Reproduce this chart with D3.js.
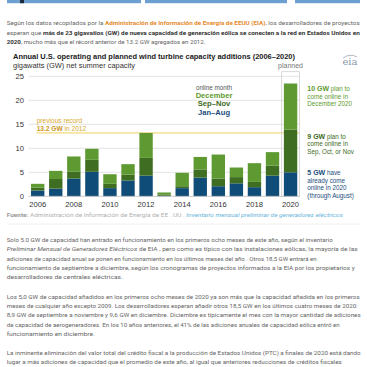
<!DOCTYPE html>
<html><head><meta charset="utf-8">
<script src="https://cdn.jsdelivr.net/npm/d3@7"></script>
<style>
html,body{margin:0;padding:0;background:#fff;}
svg{display:block;}
</style></head>
<body>
<svg id="c" width="367" height="367"></svg>
<script>
// ---- data ----
const years = [2006,2007,2008,2009,2010,2011,2012,2013,2014,2015,2016,2017,2018,2019,2020];
const janAug   = [1.2,1.6,3.7,5.1,1.7,3.3,4.3,0.1,1.7,3.9,2.1,2.7,1.9,4.3,5.0];
const sepNov   = [0.6,2.0,1.4,2.5,0.9,1.2,3.7,0.3,0.4,1.7,1.6,1.3,1.1,2.1,8.9];
const december = [0.8,1.7,3.2,2.3,2.0,2.2,5.2,0.4,2.8,2.6,5.0,2.0,3.9,2.8,9.6];
const seriesNames = ["Jan–Aug","Sep–Nov","December"];
const yTicks = [0,5,10,15,20,25];
const xTickLabels = [2006,2008,2010,2012,2014,2016,2018,2020];
const previousRecord = 13.2;

const colors = {"Jan–Aug":"#0f4c78","Sep–Nov":"#3f6e22","December":"#5e9a31"};
const legendColors = {"December":"#5e9a2e","Sep–Nov":"#3d6a22","Jan–Aug":"#1b4d7e"};

const svg = d3.select("#c");
const FONT = "Arial, 'Liberation Sans', sans-serif";
const PFONT = "Roboto, 'Open Sans', sans-serif";

// top banner
[[7,141],[145,287],[295,360]].forEach(([a,b])=>{
  svg.append("rect").attr("x",a).attr("y",0).attr("width",b-a).attr("height",3.2).attr("fill","#6d9fd1");
});
svg.append("rect").attr("x",20).attr("y",0).attr("width",4).attr("height",3.2).attr("fill","#1d2a3a");

// helper for rich text lines
function line(x,y,segs,size,w,fam){
  const t = svg.append("text").attr("x",x).attr("y",y).attr("font-family",fam||PFONT).attr("font-size",size);
  segs.forEach(s=>{
    const ts=t.append("tspan").text(s.t).attr("fill",s.c||"#666");
    if(s.b) ts.attr("font-weight","bold");
    if(s.i) ts.attr("font-style","italic");
  });
  if(w){ t.attr("textLength",w).attr("lengthAdjust","spacingAndGlyphs"); }
  return t;
}

// intro paragraph
const PS = 6.2;
line(6.7,24.8,[{t:"Según los datos recopilados por la "},{t:"Administración de Información de Energía de EEUU (EIA)",c:"#e5892c",b:1},{t:", los desarrolladores de proyectos"}],PS,353);
line(6.7,34.5,[{t:"esperan que "},{t:"más de 23 gigavatios (GW) de nueva capacidad de generación eólica se conecten a la red en Estados Unidos en",c:"#333",b:1}],PS,353);
line(6.7,44.3,[{t:"2020",c:"#333",b:1},{t:", mucho más que el récord anterior de 13.2 GW agregados en 2012."}],PS,null);

// chart scales
const x = d3.scaleBand().domain(years).range([28.67,299.6]).paddingInner(0.26).paddingOuter(0.13);
const y = d3.scaleLinear().domain([0,25]).range([196.3,76.3]);

// title
line(13,59.3,[{t:"Annual U.S. operating and planned wind turbine capacity additions (2006–2020)",c:"#1a1a1a",b:1}],7.6,282,FONT);
line(13,68.2,[{t:"gigawatts (GW) net summer capacity",c:"#333"}],7.3,122,FONT);

// eia logo
const lg = svg.append("g");
lg.append("text").attr("x",350).attr("y",65).attr("text-anchor","middle").attr("font-family","'DejaVu Serif', serif").attr("font-size",10).attr("fill","#8a97a6").text("eia");
lg.append("path").attr("d","M343,58 Q350,53 357,57").attr("fill","none").attr("stroke","#9aa6b3").attr("stroke-width",0.8);

// gridlines
svg.append("g").selectAll("line").data(yTicks.filter(d=>d>0)).join("line")
  .attr("x1",28.5).attr("x2",299.6).attr("y1",d=>y(d)).attr("y2",d=>y(d))
  .attr("stroke","#dcdcdc").attr("stroke-width",0.8);
// y labels
svg.append("g").selectAll("text").data(yTicks).join("text")
  .attr("x",24).attr("y",d=>y(d)+2.6).attr("text-anchor","end")
  .attr("font-family",FONT).attr("font-size",7.6).attr("fill","#333").text(d=>d);

// previous record line
svg.append("line").attr("x1",36.5).attr("x2",299).attr("y1",y(previousRecord)).attr("y2",y(previousRecord))
  .attr("stroke","#f0cf5a").attr("stroke-width",1);
line(36.7,122.8,[{t:"previous record",c:"#d7a82b"}],6.6,null,FONT);
line(36.7,130.6,[{t:"13.2 GW",c:"#c9961c",b:1},{t:" in 2012",c:"#d7a82b"}],6.6,null,FONT);

// planned box
const bx = x(2020)-2.2, bw = x.bandwidth()+4.4;
svg.append("rect").attr("x",bx).attr("y",y(25)-4.6).attr("width",bw).attr("height",y(0)-y(25)+4.6)
  .attr("fill","none").attr("stroke","#cfcfcf").attr("stroke-width",0.8);
svg.append("text").attr("x",bx+bw/2).attr("y",68.3).attr("text-anchor","middle")
  .attr("font-family",FONT).attr("font-size",7).attr("fill","#777").text("planned");

// stacked bars
const table = years.map((yr,i)=>({year:yr,"Jan–Aug":janAug[i],"Sep–Nov":sepNov[i],"December":december[i]}));
const stack = d3.stack().keys(seriesNames)(table);
svg.append("g").selectAll("g").data(stack).join("g").attr("fill",d=>colors[d.key])
  .selectAll("rect").data(d=>d).join("rect")
  .attr("x",d=>x(d.data.year)).attr("width",x.bandwidth())
  .attr("y",d=>y(d[1])).attr("height",d=>y(d[0])-y(d[1]));

// baseline
svg.append("line").attr("x1",28.5).attr("x2",299.6).attr("y1",y(0)).attr("y2",y(0)).attr("stroke","#bbb").attr("stroke-width",0.8);

// x labels
svg.append("g").selectAll("text").data(xTickLabels).join("text")
  .attr("x",d=>x(d)+x.bandwidth()/2).attr("y",206.6).attr("text-anchor","middle")
  .attr("font-family",FONT).attr("font-size",7.6).attr("fill","#333").text(d=>d);

// legend
const lgx = 214;
svg.append("text").attr("x",lgx).attr("y",89.5).attr("text-anchor","middle").attr("font-family",FONT).attr("font-size",6.3).attr("fill","#555").text("online month");
[["December",97.5],["Sep–Nov",106],["Jan–Aug",114.5]].forEach(([k,yy])=>{
  svg.append("text").attr("x",lgx).attr("y",yy).attr("text-anchor","middle").attr("font-family",FONT)
    .attr("font-size",7.6).attr("font-weight","bold").attr("fill",legendColors[k]).text(k);
});

// right annotations
function ann(lines,y0,col){
  lines.forEach((segs,i)=>{
    const t = svg.append("text").attr("x",307.3).attr("y",y0+i*7.7).attr("font-family",FONT).attr("font-size",6.3).attr("fill",col);
    segs.forEach(s=>{const ts=t.append("tspan").text(s.t); if(s.b) ts.attr("font-weight","bold").attr("font-size",7);});
  });
}
ann([[{t:"10 GW",b:1},{t:" plan to"}],[{t:"come online in"}],[{t:"December 2020"}]],90.8,legendColors["December"]);
ann([[{t:"9 GW",b:1},{t:" plan to"}],[{t:"come online in"}],[{t:"Sep, Oct, or Nov"}]],138.5,legendColors["Sep–Nov"]);
ann([[{t:"5 GW",b:1},{t:" have"}],[{t:"already come"}],[{t:"online in 2020"}],[{t:"(through August)"}]],174.8,legendColors["Jan–Aug"]);

// source
line(6.7,216.6,[{t:"Fuente:",c:"#999",b:1},{t:" Administración de Información de Energía de EE . UU . ",c:"#b0b0b0"},{t:"Inventario mensual preliminar de generadores eléctricos",c:"#64b3da",i:1}],5.4,336);
svg.append("line").attr("x1",6.7).attr("x2",360).attr("y1",224).attr("y2",224).attr("stroke","#ececec").attr("stroke-width",0.8);

// body paragraphs
const body = [
  [242.2,[{t:"Solo 5.0 GW de capacidad han entrado en funcionamiento en los primeros ocho meses de este año, según el inventario"}],326],
  [251.3,[{t:"Preliminar Mensual de Generadores Eléctricos",i:1},{t:" de EIA , pero como es típico con las instalaciones eólicas, la mayoría de las"}],351],
  [260.5,[{t:"adiciones de capacidad anual se ponen en funcionamiento en los últimos meses del año . Otros 18,5 GW entrará en"}],310],
  [269.6,[{t:"funcionamiento de septiembre a diciembre, según los cronogramas de proyectos informados a la EIA por los propietarios y"}],348],
  [278.8,[{t:"desarrolladores de centrales eléctricas."}],116],
  [298.8,[{t:"Los 5,0 GW de capacidad añadidos en los primeros ocho meses de 2020 ya son más que la capacidad añadida en los primeros"}],353],
  [308.0,[{t:"meses de cualquier año excepto 2009. Los desarrolladores esperan añadir otros 18,5 GW en los últimos cuatro meses de 2020:"}],351],
  [317.3,[{t:"8,9 GW de septiembre a noviembre y 9,6 GW en diciembre. Diciembre es típicamente el mes con la mayor cantidad de adiciones"}],354],
  [326.5,[{t:"de capacidad de aerogeneradores. En los 10 años anteriores, el 41% de las adiciones anuales de capacidad eólica entró en"}],333],
  [335.8,[{t:"funcionamiento en diciembre."}],88],
  [354.6,[{t:"La inminente eliminación del valor total del crédito fiscal a la producción de Estados Unidos (PTC) a finales de 2020 está dando"}],354],
  [363.8,[{t:"lugar a más adiciones de capacidad que el promedio de este año, al igual que anteriores reducciones de créditos fiscales"}],335]
];
body.forEach(([yy,segs,w])=>line(6.7,yy,segs,PS,w));
</script>
</body></html>
